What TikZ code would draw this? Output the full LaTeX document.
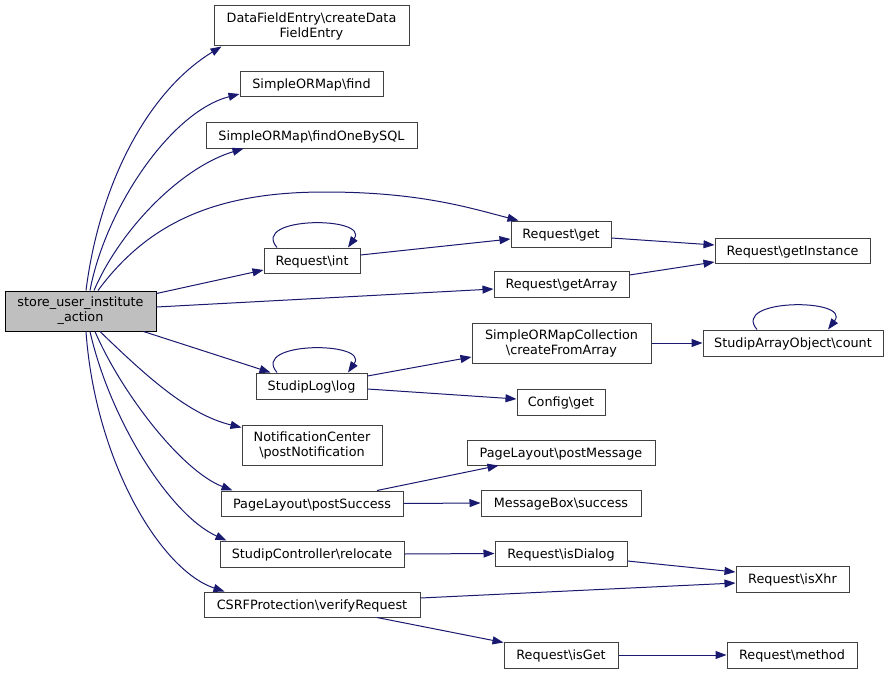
\documentclass[tikz,border=0pt]{standalone}
\usepackage{fontspec}
\setmainfont{DejaVu Sans}
\usetikzlibrary{arrows.meta}
\definecolor{edgec}{HTML}{191970}
\definecolor{boxc}{HTML}{404040}
\definecolor{mainfill}{HTML}{BFBFBF}
\tikzset{
  box/.style={draw=boxc, fill=white, line width=1pt, inner sep=0pt, align=center, font=\fontsize{12.8}{15}\selectfont},
  sbox/.style={box, text height=10pt, text depth=1pt},
  mainbox/.style={box, draw=black, fill=mainfill},
  edge/.style={draw=edgec, line width=1pt, -{Triangle[length=11pt,width=8pt]}},
}
\newcommand{\bs}{\textbackslash}
\begin{document}
\begin{tikzpicture}[x=1pt,y=-1pt]
\fill[white] (0,0) rectangle (888,674);
\useasboundingbox (0,0) rectangle (888,674);
% nodes
\node[mainbox, minimum width=151pt, minimum height=40pt] (store) at (80.5,311) {store\_user\_institute\\\_action};
\node[box, minimum width=195pt, minimum height=40pt] (df) at (311.5,26) {DataFieldEntry\bs createData\\FieldEntry};
\node[sbox, minimum width=143pt, minimum height=25pt] (find) at (311.5,84.5) {SimpleORMap\bs find};
\node[sbox, minimum width=211pt, minimum height=25pt] (fobs) at (311.5,135.5) {SimpleORMap\bs findOneBySQL};
\node[sbox, minimum width=100pt, minimum height=26pt] (rget) at (561,234) {Request\bs get};
\node[sbox, minimum width=96pt, minimum height=25pt] (rint) at (312,260.5) {Request\bs int};
\node[sbox, minimum width=155pt, minimum height=25pt] (ginst) at (792.5,250.5) {Request\bs getInstance};
\node[sbox, minimum width=135pt, minimum height=26pt] (garr) at (561.5,284) {Request\bs getArray};
\node[box, minimum width=179pt, minimum height=40pt] (coll) at (561.5,343) {SimpleORMapCollection\\\bs createFromArray};
\node[sbox, minimum width=180pt, minimum height=26pt] (count) at (793,343) {StudipArrayObject\bs count};
\node[sbox, minimum width=111pt, minimum height=26pt] (log) at (311.5,386) {StudipLog\bs log};
\node[sbox, minimum width=88pt, minimum height=26pt] (cget) at (561,402) {Config\bs get};
\node[box, minimum width=140pt, minimum height=40pt] (notif) at (312,445) {NotificationCenter\\\bs postNotification};
\node[sbox, minimum width=188pt, minimum height=25pt] (pmsg) at (561,452.5) {PageLayout\bs postMessage};
\node[sbox, minimum width=182pt, minimum height=25pt] (psucc) at (312,503.5) {PageLayout\bs postSuccess};
\node[sbox, minimum width=160pt, minimum height=26pt] (mbox) at (561,503) {MessageBox\bs success};
\node[sbox, minimum width=184pt, minimum height=26pt] (reloc) at (312,554) {StudipController\bs relocate};
\node[sbox, minimum width=132pt, minimum height=25pt] (isdlg) at (561,553.5) {Request\bs isDialog};
\node[sbox, minimum width=113pt, minimum height=26pt] (isxhr) at (792.5,579) {Request\bs isXhr};
\node[sbox, minimum width=216pt, minimum height=25pt] (csrf) at (312,604.5) {CSRFProtection\bs verifyRequest};
\node[sbox, minimum width=114pt, minimum height=26pt] (isget) at (561,655) {Request\bs isGet};
\node[sbox, minimum width=130pt, minimum height=26pt] (meth) at (792,655) {Request\bs method};
% edges from store
\draw[edge] ([xshift=5.5pt]store.north) .. controls (100,180) and (150,90) .. ([xshift=8pt]df.south west);
\draw[edge] ([xshift=9.5pt]store.north) .. controls (105,210) and (170,112) .. ([yshift=-9.5pt]find.west);
\draw[edge] ([xshift=13.5pt]store.north) .. controls (120,230) and (180,168) .. ([xshift=38pt]fobs.south west);
\draw[edge] ([xshift=17.5pt]store.north) .. controls (150,220) and (220,192) .. (325,192) .. controls (420,192) and (470,208) .. ([xshift=8pt]rget.north west);
\draw[edge] ([yshift=-3pt]store.north east) -- ([yshift=-9.5pt]rint.west);
\draw[edge] ([yshift=4pt]store.east) -- ([yshift=-5pt]garr.west);
\draw[edge] ([xshift=-13pt]store.south east) -- ([xshift=15pt]log.north west);
\draw[edge] ([xshift=19.5pt]store.south) .. controls (150,380) and (190,415) .. ([yshift=-3pt]notif.north west);
\draw[edge] ([xshift=14.5pt]store.south) .. controls (120,390) and (180,470) .. ([xshift=12pt]psucc.north west);
\draw[edge] ([xshift=9.5pt]store.south) .. controls (110,420) and (170,515) .. ([xshift=7pt]reloc.north west);
\draw[edge] ([xshift=5.5pt]store.south) .. controls (95,460) and (160,570) .. ([xshift=21pt]csrf.north west);
% self loops
\draw[edge] ([xshift=-35pt]rint.north) .. controls (250,216) and (370,216) .. ([xshift=36pt]rint.north);
\draw[edge] ([xshift=-34.5pt]log.north) .. controls (250,341) and (370,341) .. ([xshift=36.5pt]log.north);
\draw[edge] ([xshift=-36pt]count.north) .. controls (730,298) and (852,298) .. ([xshift=35pt]count.north);
% other edges
\draw[edge] ([yshift=5.5pt]rint.east) -- ([yshift=-5pt]rget.west);
\draw[edge] ([yshift=-4pt]rget.east) -- ([yshift=5.5pt]ginst.west);
\draw[edge] ([yshift=9pt]garr.east) -- ([yshift=-11.5pt]ginst.west);
\draw[edge] ([yshift=10pt]log.east) -- ([yshift=-14pt]coll.west);
\draw[edge] ([yshift=-3pt]log.east) -- ([yshift=3pt]cget.west);
\draw[edge] (coll.east) -- (count.west);
\draw[edge] ([xshift=65pt]psucc.north) -- ([xshift=32pt]pmsg.south west);
\draw[edge] (psucc.east) -- (mbox.west);
\draw[edge] (reloc.east) -- (isdlg.west);
\draw[edge] ([yshift=-7.5pt]isdlg.east) -- ([yshift=7pt]isxhr.west);
\draw[edge] ([yshift=6.5pt]csrf.east) -- ([yshift=-4pt]isxhr.west);
\draw[edge] ([xshift=65pt]csrf.south) -- ([yshift=-1pt]isget.north west);
\draw[edge] (isget.east) -- (meth.west);
\end{tikzpicture}
\end{document}
